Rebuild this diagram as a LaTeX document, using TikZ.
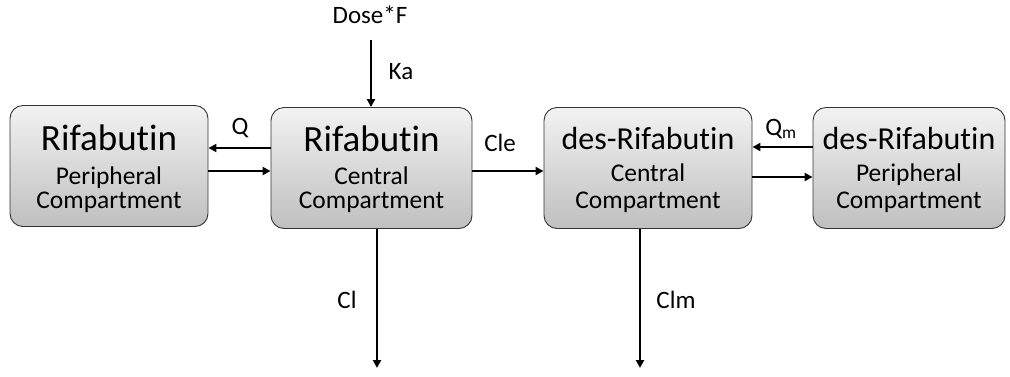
\documentclass[tikz,border=0pt]{standalone}
\usepackage{fontspec}
\setmainfont{Carlito}[Ligatures={NoCommon,NoContextual}]
\usetikzlibrary{arrows.meta}
\newcommand{\rifa}{Rifabut\kern0pt in}
\begin{document}
\begin{tikzpicture}[x=1pt,y=-1pt,
  comp/.style={draw=black!80, line width=0.9pt, rounded corners=13pt,
    top color=gray!10, bottom color=gray!50, inner sep=0pt, minimum height=121pt},
  bigt/.style={font=\fontsize{37}{40}\selectfont, anchor=base, inner sep=0pt},
  dest/.style={font=\fontsize{32}{36}\selectfont, anchor=base, inner sep=0pt},
  smallt/.style={font=\fontsize{25.5}{28}\selectfont, anchor=base, inner sep=0pt},
  flow/.style={line width=2.4pt, -{Triangle[length=8pt,width=8pt]}},
  lbl/.style={font=\fontsize{25}{28}\selectfont, inner sep=0pt}]
\useasboundingbox (0,0) rectangle (1010,376);
\node[comp, minimum width=198pt] (rp) at (109,166) {};
\node[bigt] (rp1) at ([yshift=16pt]rp.center) {\rifa};
\node[smallt] (rp2) at ([yshift=-18pt]rp.center) {Peripheral};
\node[smallt] (rp3) at ([yshift=-42pt]rp.center) {Compartment};
\node[comp, minimum width=201pt] (rc) at (371.5,168) {};
\node[bigt] (rc1) at ([yshift=17pt]rc.center) {\rifa};
\node[smallt] (rc2) at ([yshift=-16pt]rc.center) {Central};
\node[smallt] (rc3) at ([yshift=-40pt]rc.center) {Compartment};
\node[comp, minimum width=208pt] (dc) at (648,168) {};
\node[dest] (dc1) at ([yshift=19pt]dc.center) {des-\rifa};
\node[smallt] (dc2) at ([yshift=-13pt]dc.center) {Central};
\node[smallt] (dc3) at ([yshift=-40pt]dc.center) {Compartment};
\node[comp, minimum width=192pt] (dp) at (909,168) {};
\node[dest] (dp1) at ([yshift=19pt]dp.center) {des-\rifa};
\node[smallt] (dp2) at ([yshift=-13pt]dp.center) {Peripheral};
\node[smallt] (dp3) at ([yshift=-40pt]dp.center) {Compartment};
% dose
\node[lbl] (dose) at (370,15) {Dose*F};
\coordinate (dtop) at (371,40);
\draw[flow] (dtop) -- (dtop |- rc.north);
\node[lbl] (ka) at (401,72) {Ka};
% Q
\draw[flow] (rc.west |- 0,148) -- (rp.east |- 0,148);
\draw[flow] (rp.east |- 0,171) -- (rc.west |- 0,171);
\node[lbl] (q) at (240,128) {Q};
% Cle
\draw[flow] (rc.east |- 0,171) -- (dc.west |- 0,171);
\node[lbl] (cle) at (500,143) {Cle};
% Qm
\draw[flow] (dp.west |- 0,147) -- (dc.east |- 0,147);
\draw[flow] (dc.east |- 0,177) -- (dp.west |- 0,177);
\node[lbl] (qm) at (781,129) {Q\textsubscript{m}};
% Cl
\coordinate (clend) at (377,368);
\draw[flow] (clend |- rc.south) -- (clend);
\node[lbl] (cl) at (347,300) {Cl};
\coordinate (clmend) at (640,368);
\draw[flow] (clmend |- dc.south) -- (clmend);
\node[lbl] (clm) at (676,300) {Clm};
\end{tikzpicture}
\end{document}
